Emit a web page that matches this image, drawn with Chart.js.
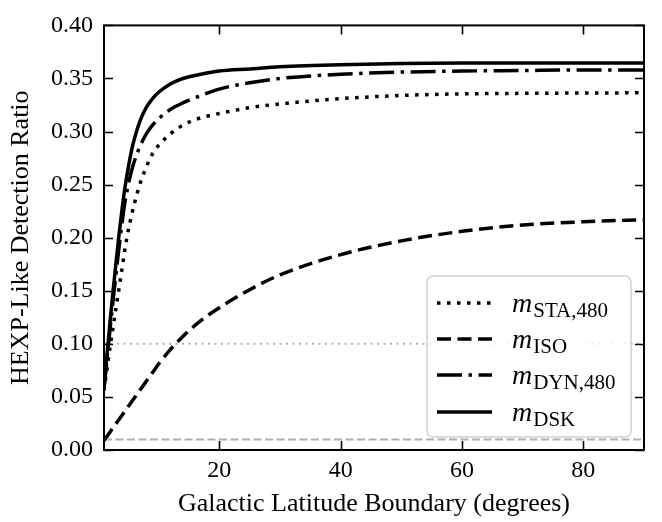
<!DOCTYPE html>
<html>
<head>
<meta charset="utf-8">
<script src="https://cdn.jsdelivr.net/npm/chart.js@4.4.0/dist/chart.umd.min.js"></script>
<style>
  html, body { margin: 0; padding: 0; background: #fff; }
  #wrap { width: 662px; height: 522px; }
</style>
</head>
<body>
<div id="wrap"><canvas id="chart" width="662" height="522"></canvas></div>
<script>
// galactic latitude boundary (degrees)
const latitudes = [1, 1.5, 2, 2.5, 3, 3.5, 4, 4.5, 5, 5.5, 6, 7, 8, 9, 10, 12, 14, 17, 20, 25, 30, 40, 50, 60, 70, 80, 90]

// detection ratio for each model
const sta480 = [0.056, 0.077, 0.097, 0.116, 0.135, 0.153, 0.172, 0.191, 0.207, 0.220, 0.232, 0.252, 0.267, 0.279, 0.287, 0.298, 0.306, 0.313, 0.317, 0.3225, 0.326, 0.331, 0.334, 0.3355, 0.336, 0.3363, 0.3365]
const iso = [0.009, 0.013, 0.017, 0.021, 0.025, 0.029, 0.033, 0.037, 0.041, 0.045, 0.049, 0.057, 0.065, 0.073, 0.081, 0.095, 0.107, 0.122, 0.134, 0.151, 0.165, 0.184, 0.197, 0.206, 0.212, 0.215, 0.217]
const dyn480 = [0.058, 0.086, 0.114, 0.141, 0.167, 0.192, 0.215, 0.235, 0.250, 0.262, 0.272, 0.287, 0.298, 0.306, 0.312, 0.321, 0.327, 0.334, 0.340, 0.346, 0.350, 0.354, 0.356, 0.357, 0.3575, 0.358, 0.358]
const dsk = [0.058, 0.090, 0.121, 0.150, 0.178, 0.204, 0.228, 0.249, 0.266, 0.281, 0.293, 0.311, 0.323, 0.331, 0.337, 0.345, 0.350, 0.354, 0.357, 0.359, 0.361, 0.363, 0.364, 0.3645, 0.3645, 0.3645, 0.3645]

// horizontal reference levels (dotted, dashed)
const refLevels = [0.1, 0.01]

const xTickValues = [20, 40, 60, 80]
const yTickValues = [0, 0.05, 0.1, 0.15, 0.2, 0.25, 0.3, 0.35, 0.4]

// legend labels: [italic symbol, subscript]
const legendLabels = [['m', 'STA,480'], ['m', 'ISO'], ['m', 'DYN,480'], ['m', 'DSK']]

const FONT = '"Liberation Serif", "Times New Roman", serif'
const dashes = {
  dotted: [3.5, 6.5],
  dashed: [14, 6.5],
  dashdot: [25, 6.5, 3.5, 6.5],
  solid: []
}
const styles = ['dotted', 'dashed', 'dashdot', 'solid']

const toPoints = ys => latitudes.map((x, i) => ({ x, y: ys[i] }))
const levelLine = lvl => [{ x: latitudes[0], y: lvl }, { x: latitudes[latitudes.length - 1], y: lvl }]

const curveSets = [sta480, iso, dyn480, dsk].map((ys, i) => ({
  label: legendLabels[i].join('_'),
  data: toPoints(ys),
  borderColor: '#000',
  borderWidth: 3.5,
  borderDash: dashes[styles[i]],
  borderCapStyle: 'butt',
  pointRadius: 0,
  fill: false,
  cubicInterpolationMode: 'monotone',
  order: 1
}))

const refSets = [
  { label: 'ref 0.1', data: levelLine(refLevels[0]), borderColor: '#b0b0b0', borderWidth: 2, borderDash: [2, 4.5], pointRadius: 0, order: 5 },
  { label: 'ref 0.01', data: levelLine(refLevels[1]), borderColor: '#b0b0b0', borderWidth: 2, borderDash: [8, 3.5], pointRadius: 0, order: 5 }
]

// inward ticks on all four sides plus a full frame
const framePlugin = {
  id: 'frame',
  afterDraw(chart) {
    const { ctx, chartArea: a, scales } = chart
    const tl = 9
    ctx.save()
    ctx.strokeStyle = '#000'
    ctx.lineWidth = 1.6
    ctx.beginPath()
    scales.x.ticks.forEach(t => {
      const px = Math.round(scales.x.getPixelForValue(t.value)) + 0.5
      ctx.moveTo(px, a.bottom); ctx.lineTo(px, a.bottom - tl)
      ctx.moveTo(px, a.top); ctx.lineTo(px, a.top + tl)
    })
    scales.y.ticks.forEach(t => {
      const py = Math.round(scales.y.getPixelForValue(t.value)) + 0.5
      ctx.moveTo(a.left, py); ctx.lineTo(a.left + tl, py)
      ctx.moveTo(a.right, py); ctx.lineTo(a.right - tl, py)
    })
    ctx.stroke()
    ctx.lineWidth = 2
    ctx.strokeRect(a.left, a.top, a.right - a.left, a.bottom - a.top)
    ctx.restore()
  }
}

// matplotlib-like legend box with line samples
const legendPlugin = {
  id: 'mplLegend',
  afterDatasetsDraw(chart) {
    const { ctx, chartArea: a } = chart
    const w = 204, h = 161
    const bx = a.right - 13 - w, by = a.bottom - 13 - h
    ctx.save()
    ctx.beginPath()
    ctx.roundRect(bx, by, w, h, 6)
    ctx.fillStyle = 'rgba(255,255,255,0.8)'
    ctx.fill()
    ctx.strokeStyle = '#d0d0d0'
    ctx.lineWidth = 1.5
    ctx.stroke()
    const rows = [27, 63, 99, 136]
    legendLabels.forEach(([sym, sub], i) => {
      const ly = by + rows[i]
      ctx.beginPath()
      ctx.setLineDash(dashes[styles[i]])
      ctx.lineCap = 'butt'
      ctx.strokeStyle = '#000'
      ctx.lineWidth = 3.5
      ctx.moveTo(bx + 10, ly)
      ctx.lineTo(bx + 65, ly)
      ctx.stroke()
      ctx.setLineDash([])
      ctx.fillStyle = '#000'
      ctx.textBaseline = 'alphabetic'
      ctx.textAlign = 'left'
      ctx.font = 'italic 28px ' + FONT
      const tx = bx + 85
      ctx.fillText(sym, tx, ly + 9)
      const mw = ctx.measureText(sym).width
      ctx.font = '21px ' + FONT
      ctx.fillText(sub, tx + mw + 1, ly + 14)
    })
    ctx.restore()
  }
}

new Chart(document.getElementById('chart'), {
  type: 'line',
  data: { datasets: [...curveSets, ...refSets] },
  options: {
    responsive: false,
    animation: false,
    layout: { padding: { left: 0, right: 18, top: 10, bottom: 0 } },
    plugins: { legend: { display: false }, tooltip: { enabled: false } },
    scales: {
      x: {
        type: 'linear',
        min: 1,
        max: 90,
        afterFit: s => { s.height = 72 },
        afterBuildTicks: s => { s.ticks = xTickValues.map(value => ({ value })) },
        grid: { display: false, drawTicks: false },
        border: { display: false },
        ticks: { color: '#000', padding: 6, font: { family: FONT, size: 24 } },
        title: { display: true, text: 'Galactic Latitude Boundary (degrees)', color: '#000', padding: { top: 0, bottom: 2 }, font: { family: FONT, size: 26 } }
      },
      y: {
        type: 'linear',
        min: 0,
        max: 0.4,
        afterFit: s => { s.width = 104 },
        afterBuildTicks: s => { s.ticks = yTickValues.map(value => ({ value })) },
        grid: { display: false, drawTicks: false },
        border: { display: false },
        ticks: { color: '#000', padding: 11, font: { family: FONT, size: 24 }, callback: v => v.toFixed(2) },
        title: { display: true, text: 'HEXP-Like Detection Ratio', color: '#000', padding: { top: 6, bottom: 0 }, font: { family: FONT, size: 26 } }
      }
    }
  },
  plugins: [framePlugin, legendPlugin]
})
</script>
</body>
</html>
